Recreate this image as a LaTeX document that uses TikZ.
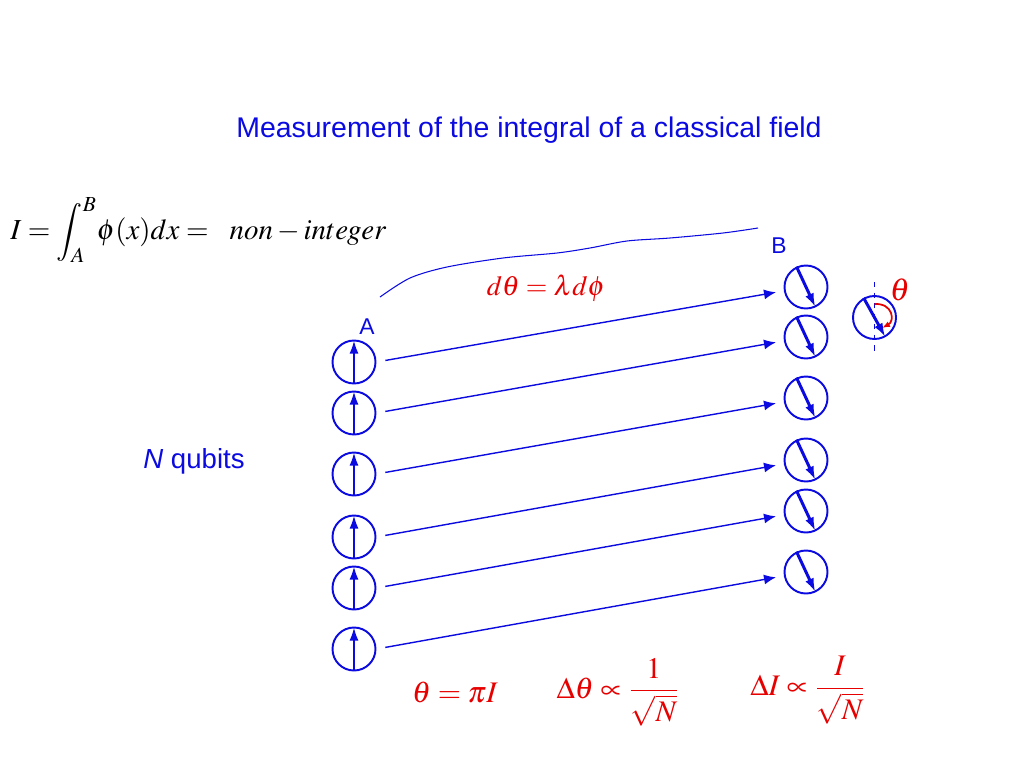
\documentclass[tikz,border=0pt]{standalone}
\usepackage{amsmath}
\usepackage{mathptmx}
\usepackage[no-math]{fontspec}
\setmainfont{Liberation Sans}
\usepackage{tikz}
\usetikzlibrary{arrows.meta,positioning}
\definecolor{qblue}{RGB}{10,10,225}
\definecolor{qred}{RGB}{230,0,0}

\begin{document}
\begin{tikzpicture}[x=0.02cm,y=-0.02cm,
	qubit/.style={circle,draw=qblue,line width=1.1pt,minimum size=0.86cm,inner sep=0pt},
	spin/.style={draw=qblue,line width=1.7pt,-{Latex[length=0.28cm,width=0.18cm]}},
	link/.style={draw=qblue,line width=0.8pt,-{Latex[length=0.24cm,width=0.2cm]},shorten <=0.18cm,shorten >=0.16cm},
	lbl/.style={text=qblue,inner sep=0pt}]
	\useasboundingbox (0,0) rectangle (1024,768);

	\node[lbl,font=\fontsize{16.2}{19}\selectfont] (title) at (529,130) {Measurement of the integral of a classical field};
	\node[inner sep=0pt,anchor=west,font=\fontsize{16.5}{20}\selectfont] (integral) at (10,230) {$I=\displaystyle\int_A^B\!\phi(x)dx=\enspace non-integer$};

	% A: six qubits pointing up
	\node[qubit] (a1) at (354,362) {};
	\node[qubit] (a2) at (354,413) {};
	\node[qubit] (a3) at (354,474) {};
	\node[qubit] (a4) at (354,537) {};
	\node[qubit] (a5) at (354,588) {};
	\node[qubit] (a6) at (354,649) {};
	\node[lbl,font=\fontsize{13}{15}\selectfont] (A) at (367,327) {A};

	% B: six qubits turned by theta
	\node[qubit] (b1) at (806,287) {};
	\node[qubit] (b2) at (806,337) {};
	\node[qubit] (b3) at (806,398) {};
	\node[qubit] (b4) at (806,460) {};
	\node[qubit] (b5) at (806,511) {};
	\node[qubit] (b6) at (806,572) {};
	\node[lbl,font=\fontsize{13}{15}\selectfont] (B) at (779,246) {B};

	\draw[spin] (a1.south) -- (a1.north);
	\draw[spin] (a2.south) -- (a2.north);
	\draw[spin] (a3.south) -- (a3.north);
	\draw[spin] (a4.south) -- (a4.north);
	\draw[spin] (a5.south) -- (a5.north);
	\draw[spin] (a6.south) -- (a6.north);

	\draw[spin] (b1.115) -- (b1.-65);
	\draw[spin] (b2.115) -- (b2.-65);
	\draw[spin] (b3.115) -- (b3.-65);
	\draw[spin] (b4.115) -- (b4.-65);
	\draw[spin] (b5.115) -- (b5.-65);
	\draw[spin] (b6.115) -- (b6.-65);

	\draw[link] (a1.east) -- (b1.190);
	\draw[link] (a2.east) -- (b2.190);
	\draw[link] (a3.east) -- (b3.190);
	\draw[link] (a4.east) -- (b4.190);
	\draw[link] (a5.east) -- (b5.190);
	\draw[link] (a6.east) -- (b6.190);

	\node[lbl,font=\fontsize{15.7}{18}\selectfont] (nq) at (194,461) {\textit{N} qubits};

	% the field between A and B
	\draw[qblue,line width=0.6pt] plot[smooth] coordinates {(380,297) (410,278) (447,267) (503,258) (557,253) (590,248) (627,241) (670,238) (723,233) (758,228)};
	\node[text=qred,inner sep=0pt,font=\fontsize{15.8}{19}\selectfont] (dtheta) at (546,288) {$d\theta=\lambda d\phi$};

	% angle theta
	\node[qubit] (t) at (874.5,317.5) {};
	\draw[qblue,line width=0.5pt,dashed] (874.5,282) -- (874.5,352);
	\draw[spin] (t.119) -- (t.-61);
	\draw[qred,line width=1pt,-{Latex[length=0.16cm,width=0.12cm]}] (874.5,304) .. controls (893,303) and (895,321) .. (882,328);
	\node[text=qred,inner sep=0pt,font=\fontsize{18}{20}\selectfont] (th) at (900,290) {$\theta$};

	\node[text=qred,inner sep=0pt,font=\fontsize{17}{20}\selectfont] (res1) at (455,692) {$\theta=\pi I$};
	\node[text=qred,inner sep=0pt,font=\fontsize{17}{20}\selectfont] (res2) at (618,692) {$\Delta\theta\propto\dfrac{1}{\sqrt{N}}$};
	\node[text=qred,inner sep=0pt,font=\fontsize{17}{20}\selectfont] (res3) at (808,690) {$\Delta I\propto\dfrac{I}{\sqrt{N}}$};
\end{tikzpicture}
\end{document}
